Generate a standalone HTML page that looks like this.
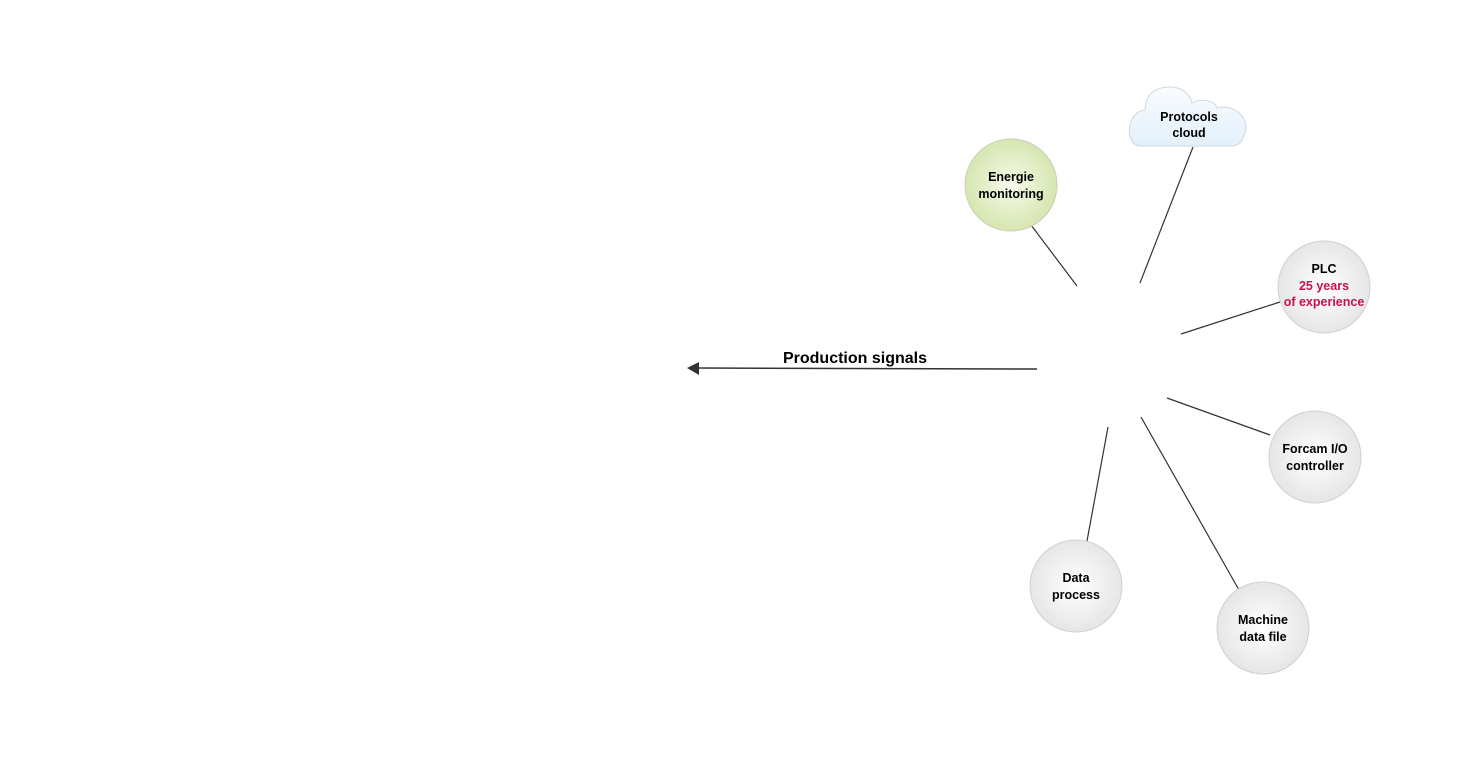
<!DOCTYPE html>
<html><head><meta charset="utf-8"><style>
body{margin:0;width:1460px;height:765px;background:#fff;overflow:hidden}
svg text{font-family:"Liberation Sans",sans-serif;font-weight:bold;font-size:12.5px;text-anchor:middle}
</style></head><body>
<svg width="1460" height="765" viewBox="0 0 1460 765">
<defs>
<radialGradient id="g" cx="50%" cy="50%" r="50%"><stop offset="0" stop-color="#fff"/><stop offset="1" stop-color="#e6e6e6"/></radialGradient>
<radialGradient id="gg" cx="50%" cy="50%" r="50%"><stop offset="0" stop-color="#f6faea"/><stop offset="1" stop-color="#d6e6b0"/></radialGradient>
<linearGradient id="cg" x1="0" y1="0" x2="0" y2="1"><stop offset="0" stop-color="#fafcff"/><stop offset="1" stop-color="#e2f0fb"/></linearGradient>
</defs>
<g stroke="#333" stroke-width="1.2">
<line x1="1031" y1="225" x2="1077" y2="286"/>
<line x1="1193" y1="147" x2="1140" y2="283"/>
<line x1="1181" y1="334" x2="1280" y2="302"/>
<line x1="1167" y1="398" x2="1270" y2="435"/>
<line x1="1141" y1="417" x2="1239" y2="590"/>
<line x1="1108" y1="427" x2="1087" y2="541"/>
<line x1="1037" y1="369" x2="698" y2="368" stroke-width="1.5"/>
</g>
<polygon points="687,368 699,362 699,375" fill="#333"/>
<text x="855" y="363" style="font-size:16px">Production signals</text>
<path d="M1140,146 C1125,146 1125,112 1145,110 C1145,95 1155,87 1170,87 C1183,87 1190,95 1192,103 C1200,98 1215,100 1217,108 C1235,103 1252,120 1244,135 C1242,143 1238,146 1230,146 Z" fill="url(#cg)" stroke="#cfd8df"/>
<text x="1189" y="121">Protocols</text><text x="1189" y="137">cloud</text>
<circle cx="1011" cy="185" r="46" fill="url(#gg)" stroke="#c8d0b8"/>
<text x="1011" y="181">Energie</text><text x="1011" y="198">monitoring</text>
<circle cx="1324" cy="287" r="46" fill="url(#g)" stroke="#d0d0d0"/>
<text x="1324" y="273">PLC</text><text x="1324" y="290" fill="#c4144c">25 years</text><text x="1324" y="306" fill="#c4144c">of experience</text>
<circle cx="1315" cy="457" r="46" fill="url(#g)" stroke="#d0d0d0"/>
<text x="1315" y="453">Forcam I/O</text><text x="1315" y="470">controller</text>
<circle cx="1076" cy="586" r="46" fill="url(#g)" stroke="#d0d0d0"/>
<text x="1076" y="582">Data</text><text x="1076" y="599">process</text>
<circle cx="1263" cy="628" r="46" fill="url(#g)" stroke="#d0d0d0"/>
<text x="1263" y="624">Machine</text><text x="1263" y="641">data file</text>
</svg>
</body></html>
